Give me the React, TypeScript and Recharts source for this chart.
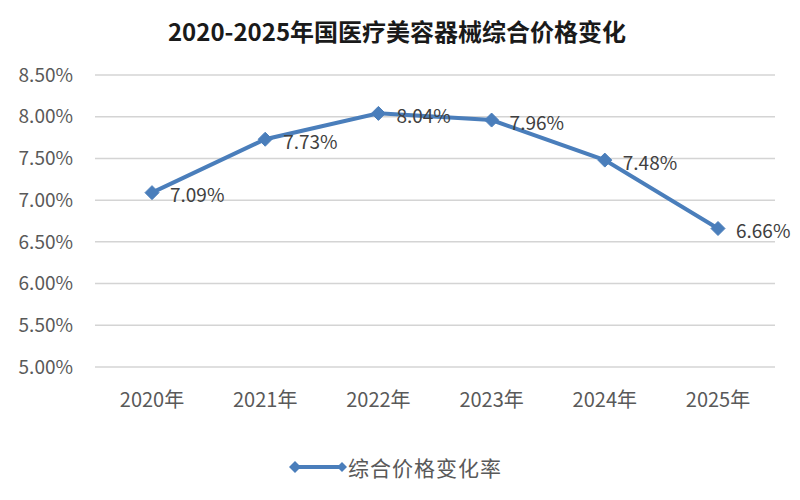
import { CartesianGrid, LabelList, Line, LineChart, XAxis, YAxis } from "recharts";

const years = ["2020年", "2021年", "2022年", "2023年", "2024年", "2025年"];
const rates = [7.09, 7.73, 8.04, 7.96, 7.48, 6.66];
const yTicks = [5, 5.5, 6, 6.5, 7, 7.5, 8, 8.5];

const data = years.map((year, i) => ({ year, rate: rates[i] }));

const BLUE = "#4a7ebb";
const FONT = '"Noto Sans CJK SC", "Noto Sans", sans-serif';

function Diamond(props: any) {
  const { cx, cy } = props;
  if (cx == null || cy == null) return null;
  const r = 7;
  return (
    <path
      key={`d-${cx}`}
      d={`M${cx},${cy - r}L${cx + r},${cy}L${cx},${cy + r}L${cx - r},${cy}Z`}
      fill={BLUE}
      stroke={BLUE}
    />
  );
}

function PointLabel(props: any) {
  const { x, y, value } = props;
  return (
    <text x={x + 18} y={y + 1} dominantBaseline="central" fontSize={19} fill="#404040" fontFamily={FONT}>
      {Number(value).toFixed(2)}%
    </text>
  );
}

export default function App() {
  return (
    <div style={{ position: "relative", width: 800, height: 500, background: "#fff", fontFamily: FONT }}>
      <style>{`body{margin:0}`}</style>
      <div
        style={{
          position: "absolute",
          top: 16,
          left: 0,
          width: 794,
          textAlign: "center",
          fontSize: 24,
          fontWeight: 700,
          color: "#1a1a1a",
          lineHeight: "30px",
        }}
      >
        2020-2025年国医疗美容器械综合价格变化
      </div>
      <LineChart width={800} height={500} data={data} margin={{ top: 75, right: 25, left: 0, bottom: 93 }}>
        <CartesianGrid vertical={false} stroke="#d4d4d4" strokeWidth={1.5} />
        <XAxis
          dataKey="year"
          padding={{ left: 57, right: 57 }}
          axisLine={false}
          tickLine={false}
          tickSize={0}
          tickMargin={26}
          height={40}
          interval={0}
          tick={{ fontSize: 20, fill: "#595959", fontFamily: FONT }}
        />
        <YAxis
          domain={[5, 8.5]}
          ticks={yTicks}
          width={95}
          axisLine={false}
          tickLine={false}
          tickSize={0}
          tickMargin={22}
          tickFormatter={(v: number) => `${v.toFixed(2)}%`}
          tick={{ fontSize: 19, fill: "#595959", fontFamily: FONT }}
        />
        <Line
          type="linear"
          dataKey="rate"
          stroke={BLUE}
          strokeWidth={4}
          dot={Diamond}
          activeDot={false}
          isAnimationActive={false}
        >
          <LabelList dataKey="rate" content={PointLabel} />
        </Line>
      </LineChart>
      <div style={{ position: "absolute", left: 288, top: 452, display: "flex", alignItems: "center" }}>
        <svg width={60} height={30}>
          <line x1={7} y1={15} x2={54} y2={15} stroke={BLUE} strokeWidth={4} />
          <path d="M7,9L13,15L7,21L1,15Z" fill={BLUE} />
          <path d="M54,10L59,15L54,20L49,15Z" fill={BLUE} />
        </svg>
        <span style={{ fontSize: 21, color: "#595959", letterSpacing: 1 }}>综合价格变化率</span>
      </div>
    </div>
  );
}
